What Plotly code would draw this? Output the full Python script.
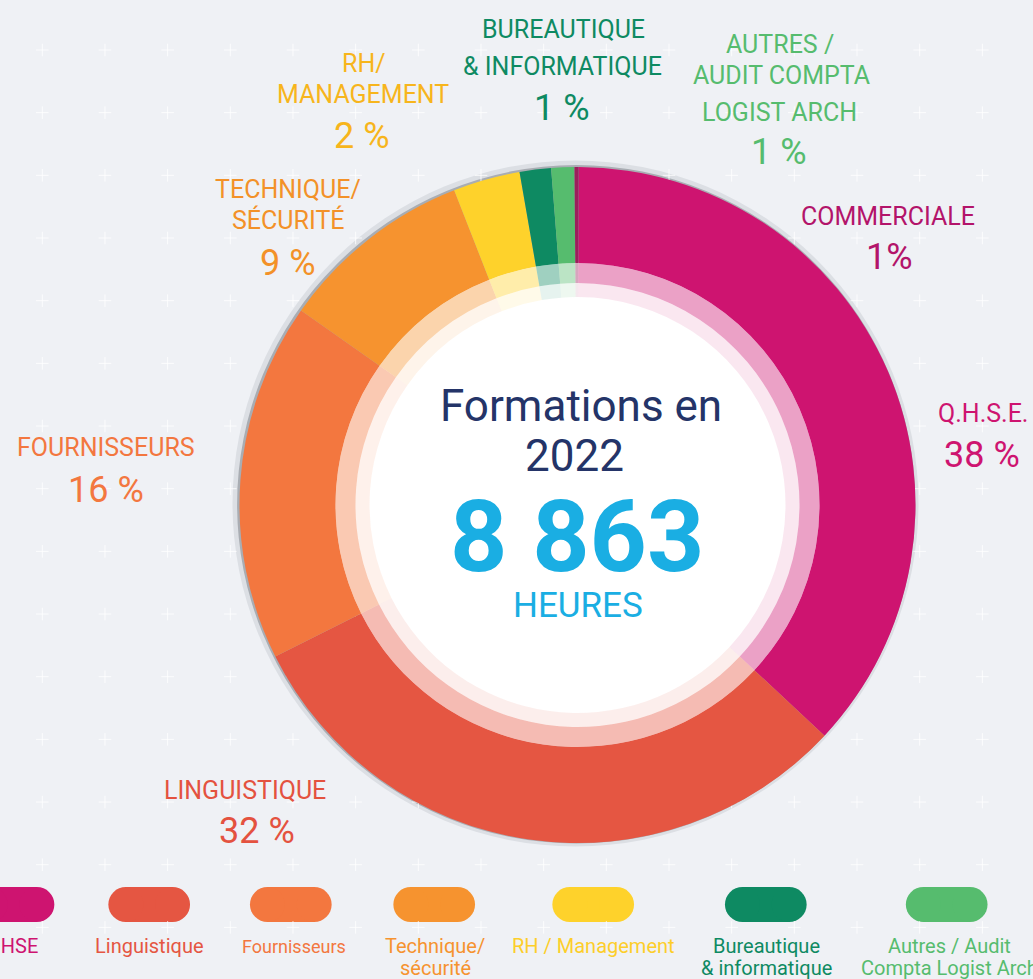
import numpy as np
import plotly.graph_objects as go

# ---------------- data ----------------
categories = ["Q.H.S.E.", "Linguistique", "Fournisseurs", "Technique/sécurité",
              "RH/Management", "Bureautique & informatique",
              "Autres / Audit Compta Logist Arch", "Commerciale"]
shares = [36.9, 30.65, 17.15, 9.3, 3.2, 1.5, 1.1, 0.2]          # drawn share of the ring
percent_labels = ["38 %", "32 %", "16 %", "9 %", "2 %", "1 %", "1 %", "1%"]
colors = ["#CE1470", "#E55642", "#F3773F", "#F6932F", "#FED22B", "#0E8A62", "#56BC6E", "#9B1F5C"]

legend_labels = ["QHSE", "Linguistique", "Fournisseurs", ["Technique/", "sécurité"],
                 "RH / Management", ["Bureautique", "& informatique"],
                 ["Autres / Audit", "Compta Logist Arch"]]

total_hours = "8 863"
year_title = ["Formations en", "2022"]
unit = "HEURES"

# ---------------- layout constants ----------------
W, H = 1033, 979
CX, CY = 577.5, 505
R_OUT, R_IN, R_B1, R_B2 = 338, 242, 222, 208
FONT = "Roboto"
BG = "#eff1f5"
NAVY = "#243468"
CYAN = "#1AAEE3"


def dom(r):
    return dict(x=[(CX - r) / W, (CX + r) / W], y=[1 - (CY + r) / H, 1 - (CY - r) / H])


def rgba(hexc, a):
    h = hexc.lstrip("#")
    return "rgba(%d,%d,%d,%.2f)" % (int(h[0:2], 16), int(h[2:4], 16), int(h[4:6], 16), a)


fig = go.Figure()

# background cross pattern (decoration)
gx = 42.3 + 62.67 * np.arange(17)
gy = 50 + 62.67 * np.arange(15)
XX, YY = np.meshgrid(gx, gy)
fig.add_trace(go.Scatter(x=XX.ravel(), y=YY.ravel(), mode="markers",
                         marker=dict(symbol="cross-thin", size=9,
                                     line=dict(color="rgba(255,255,255,0.8)", width=1)),
                         hoverinfo="skip", showlegend=False))

# main ring + two translucent inner bands
for r_o, r_i, alpha in [(R_OUT, R_IN, 1.0), (R_IN, R_B1, 0.40), (R_B1, R_B2, 0.10)]:
    fig.add_trace(go.Pie(labels=categories, values=shares, sort=False,
                         direction="clockwise", rotation=0.2,
                         hole=r_i / r_o, domain=dom(r_o),
                         marker=dict(colors=[rgba(c, alpha) for c in colors],
                                     line=dict(width=0)),
                         textinfo="none", hoverinfo="skip", showlegend=False))

shapes = []
# shadow ring and edge
shapes.append(dict(type="circle", xref="x", yref="y", layer="below",
                   x0=575.5 - 343, x1=575.5 + 343, y0=503.5 - 343, y1=503.5 + 343,
                   fillcolor="#dcdfe4", line=dict(width=0)))
shapes.append(dict(type="circle", xref="x", yref="y", layer="below",
                   x0=576.3 - 339.2, x1=576.3 + 339.2, y0=504.3 - 339.2, y1=504.3 + 339.2,
                   fillcolor="#a9adb3", line=dict(width=0)))
# white centre
shapes.append(dict(type="circle", xref="x", yref="y", layer="below",
                   x0=CX - R_IN - 0.5, x1=CX + R_IN + 0.5, y0=CY - R_IN - 0.5, y1=CY + R_IN + 0.5,
                   fillcolor="white", line=dict(width=0)))

# legend pills (rect + two end circles)
pill_cx = [13.5, 149.2, 290.8, 434.2, 593.2, 765.8, 946.7]
PW, PY0, PY1 = 81.7, 887, 922
pr = (PY1 - PY0) / 2
for i, pcx in enumerate(pill_cx):
    x0, x1 = pcx - PW / 2, pcx + PW / 2
    shapes.append(dict(type="rect", xref="x", yref="y", layer="below",
                       x0=x0 + pr, x1=x1 - pr, y0=PY0, y1=PY1,
                       fillcolor=colors[i], line=dict(width=0)))
    for ccx in (x0 + pr, x1 - pr):
        shapes.append(dict(type="circle", xref="x", yref="y", layer="below",
                           x0=ccx - pr, x1=ccx + pr, y0=PY0, y1=PY1,
                           fillcolor=colors[i], line=dict(width=0)))

annotations = []


def ann(text, x, y, size, color, weight=400, family=FONT):
    annotations.append(dict(text=text, x=x, y=y, xref="x", yref="y", showarrow=False,
                            xanchor="center", yanchor="middle",
                            font=dict(family=family, size=size, color=color, weight=weight)))


# outer labels: (category index, lines with centre positions)
outer = [
    (5, ["BUREAUTIQUE", "& INFORMATIQUE"], [(563, 29), (562, 66)], (562, 108), colors[5]),
    (4, ["RH/", "MANAGEMENT"], [(364, 63), (363, 94)], (362, 136), "#F7B51C"),
    (6, ["AUTRES /", "AUDIT COMPTA", "LOGIST ARCH"], [(780, 44), (781, 75), (779, 112)], (779, 152), colors[6]),
    (7, ["COMMERCIALE"], [(888, 216)], (889, 257), "#B3146A"),
    (0, ["Q.H.S.E."], [(983, 413)], (982, 455), colors[0]),
    (3, ["TECHNIQUE/", "SÉCURITÉ"], [(288, 189), (288, 220)], (288, 263), "#F39128"),
    (2, ["FOURNISSEURS"], [(106, 447)], (106, 490), colors[2]),
    (1, ["LINGUISTIQUE"], [(245, 790)], (257, 831), "#E4523F"),
]
for idx, lines, pos, ppos, col in outer:
    for t, (x, y) in zip(lines, pos):
        ann(t, x, y, 25, col)
    ann(percent_labels[idx], ppos[0], ppos[1], 36, col)

# centre text
ann(year_title[0], 581, 406, 44, NAVY)
ann(year_title[1], 574, 456, 44, NAVY)
ann(total_hours, 577, 536, 100, CYAN, weight=700)
ann(unit, 578, 605, 35, CYAN)

# legend labels
leg_text_x = [12, 149.5, 293.6, 435, 593, 766.5, 949]
leg_colors = ["#CE1470", "#E55642", "#F3773F", "#F6932F", "#FDCE2A", "#0E8A62", "#56BC6E"]
for i, lab in enumerate(legend_labels):
    lines = lab if isinstance(lab, list) else [lab]
    size = 18 if i == 2 else 20
    for j, t in enumerate(lines):
        ann(t, leg_text_x[i], 946 + 22 * j, size, leg_colors[i])

fig.update_layout(
    width=W, height=H, margin=dict(l=0, r=0, t=0, b=0),
    paper_bgcolor=BG, plot_bgcolor=BG,
    xaxis=dict(range=[0, W], visible=False, fixedrange=True, domain=[0, 1]),
    yaxis=dict(range=[H, 0], visible=False, fixedrange=True, domain=[0, 1]),
    shapes=shapes, annotations=annotations, showlegend=False,
)

fig.write_html("out.html")
